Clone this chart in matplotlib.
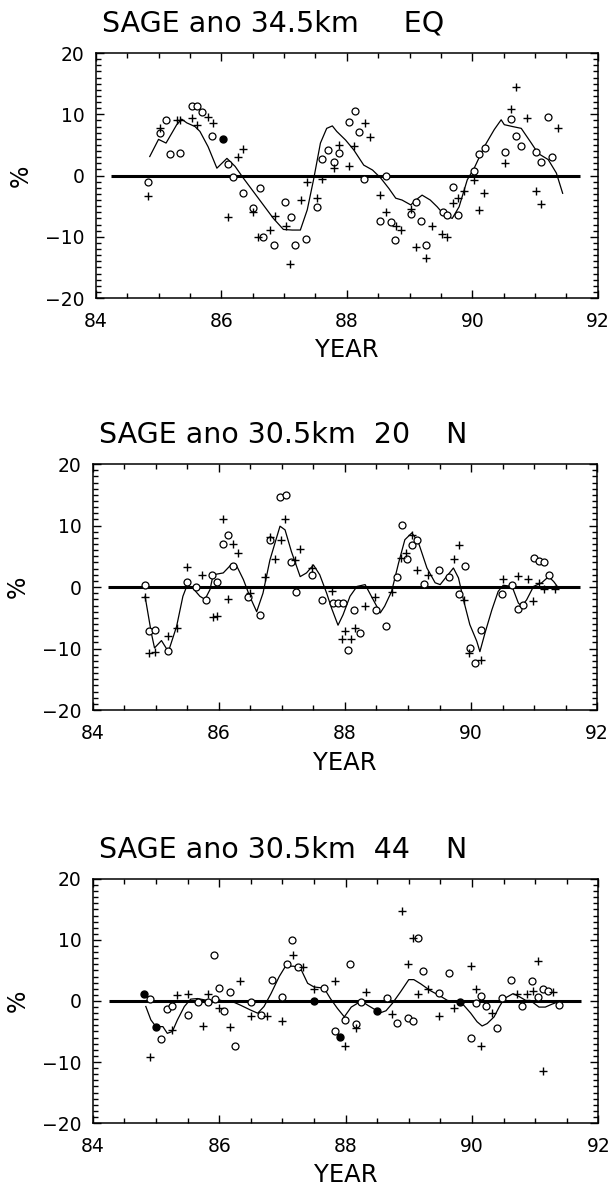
import matplotlib
matplotlib.use('Agg')
import matplotlib.pyplot as plt
from matplotlib.ticker import MultipleLocator

# ---------------- dados ----------------
# painel 1: SAGE 34.5 km, equador
eq_curva_ano = [84.86, 85.00, 85.12, 85.29, 85.37, 85.45, 85.58, 85.66, 85.79, 85.93,
                86.09, 86.22, 86.35, 86.51, 86.67, 86.83, 86.99, 87.13, 87.26, 87.37,
                87.47, 87.58, 87.68, 87.77, 87.84, 87.98, 88.11, 88.27, 88.41, 88.54,
                88.67, 88.78, 88.88, 89.02, 89.10, 89.20, 89.33, 89.44, 89.55, 89.68,
                89.79, 89.92, 90.03, 90.19, 90.35, 90.46, 90.51, 90.64, 90.78, 90.94,
                91.05, 91.21, 91.34, 91.44]
eq_curva_val = [3.1, 5.9, 5.3, 8.3, 9.2, 8.6, 8.0, 7.2, 4.7, 1.2,
                2.8, 1.5, -0.4, -2.6, -4.8, -7.0, -8.8, -8.9, -8.9, -5.6,
                -0.7, 5.3, 7.7, 8.1, 7.2, 5.8, 4.2, 1.7, 0.9, -0.4,
                -2.1, -3.7, -4.0, -4.8, -4.0, -3.2, -4.0, -5.1, -6.4, -7.0,
                -5.1, -0.7, 1.2, 4.7, 7.5, 9.1, 8.3, 8.0, 7.7, 5.3,
                3.6, 2.6, 0.4, -2.9]
eq_circ_ano = [84.84, 85.02, 85.12, 85.18, 85.34, 85.53, 85.62, 85.70, 85.86, 86.11,
               86.18, 86.35, 86.51, 86.61, 86.67, 86.84, 87.02, 87.11, 87.18, 87.35,
               87.52, 87.61, 87.70, 87.79, 87.87, 88.04, 88.13, 88.20, 88.27, 88.62,
               88.53, 88.70, 88.77, 89.02, 89.11, 89.19, 89.27, 89.53, 89.60, 89.69,
               89.78, 90.03, 90.11, 90.20, 90.52, 90.61, 90.69, 90.77, 91.02, 91.10,
               91.20, 91.27]
eq_circ_val = [-1.1, 6.9, 9.0, 3.5, 3.6, 11.3, 11.3, 10.3, 6.5, 1.9,
               -0.3, -2.8, -5.3, -2.1, -10.1, -11.4, -4.3, -6.7, -11.4, -10.4,
               -5.1, 2.7, 4.2, 2.2, 3.6, 8.7, 10.5, 7.1, -0.6, 0.0,
               -7.5, -7.6, -10.5, -6.3, -4.4, -7.5, -11.3, -6.0, -6.4, -1.9,
               -6.4, 0.7, 3.5, 4.5, 3.8, 9.2, 6.5, 4.9, 3.8, 2.2,
               9.6, 3.1]
eq_cheio_ano = [86.03]
eq_cheio_val = [5.9]
eq_mais_ano = [84.84, 85.02, 85.29, 85.35, 85.53, 85.61, 85.79, 85.87, 86.11, 86.27,
               86.35, 86.51, 86.59, 86.77, 86.85, 87.03, 87.10, 87.27, 87.37, 87.53,
               87.61, 87.79, 87.87, 88.04, 88.11, 88.29, 88.37, 88.53, 88.62, 88.78,
               88.86, 89.02, 89.11, 89.27, 89.36, 89.52, 89.60, 89.69, 89.78, 89.87,
               90.03, 90.10, 90.19, 90.52, 90.61, 90.70, 90.87, 91.02, 91.10, 91.36]
eq_mais_val = [-3.3, 7.7, 9.1, 9.1, 9.4, 8.3, 9.6, 8.6, -6.7, 3.0,
               4.4, -6.0, -10.0, -8.9, -6.6, -8.3, -14.5, -4.0, -1.0, -3.7,
               -0.5, 1.2, 5.0, 1.5, 4.9, 8.6, 6.3, -3.2, -6.0, -8.3,
               -8.9, -5.5, -11.7, -13.5, -8.3, -9.6, -10.0, -4.5, -3.7, -2.6,
               -0.7, -5.6, -2.9, 2.0, 10.9, 14.5, 9.4, -2.6, -4.6, 7.8]

# painel 2: SAGE 30.5 km, 20 N
n20_curva_ano = [84.83, 84.93, 84.98, 85.09, 85.20, 85.33, 85.43, 85.49, 85.59, 85.70,
                 85.78, 85.86, 85.91, 86.07, 86.20, 86.28, 86.39, 86.49, 86.60, 86.70,
                 86.81, 86.97, 87.05, 87.15, 87.29, 87.39, 87.50, 87.60, 87.71, 87.79,
                 87.89, 87.97, 88.08, 88.19, 88.32, 88.45, 88.56, 88.63, 88.74, 88.85,
                 88.95, 89.06, 89.16, 89.30, 89.43, 89.51, 89.61, 89.72, 89.80, 89.88,
                 89.98, 90.09, 90.14, 90.22, 90.33, 90.43, 90.51, 90.65, 90.75, 90.80,
                 90.88, 90.99, 91.12, 91.23, 91.31, 91.39]
n20_curva_val = [-1.5, -7.5, -9.9, -8.7, -10.5, -6.4, -1.5, 0.1, -0.2, -1.5,
                 -2.0, -0.4, 2.0, 2.3, 3.7, 3.5, 1.2, -1.5, -4.0, -1.0,
                 4.4, 9.9, 9.3, 5.8, 1.7, 2.3, 3.6, 2.0, -1.0, -3.5,
                 -6.2, -4.5, -1.5, 0.1, 0.4, -2.1, -4.2, -3.1, -0.7, 3.9,
                 7.7, 8.8, 7.4, 3.1, 0.7, 0.4, 1.7, 3.1, 1.5, -2.1,
                 -6.1, -8.8, -10.5, -7.5, -3.7, -0.7, 0.3, 0.1, -2.6, -3.1,
                 -2.1, 0.1, 0.7, 1.7, 0.9, -0.2]
n20_circ_ano = [84.83, 84.90, 84.98, 85.20, 85.49, 85.64, 85.80, 85.89, 85.97, 86.07,
                86.15, 86.23, 86.47, 86.65, 86.81, 86.97, 87.07, 87.15, 87.23, 87.48,
                87.64, 87.81, 87.89, 87.97, 88.05, 88.15, 88.24, 88.49, 88.65, 88.82,
                88.90, 88.98, 89.06, 89.15, 89.25, 89.49, 89.65, 89.81, 89.90, 89.98,
                90.06, 90.15, 90.49, 90.65, 90.74, 90.82, 90.99, 91.07, 91.15, 91.24]
n20_circ_val = [0.3, -7.2, -6.9, -10.4, 0.8, 0.0, -2.1, 2.0, 0.8, 7.0,
                8.5, 3.5, -1.6, -4.5, 7.7, 14.7, 14.9, 4.1, -0.8, 1.9,
                -2.1, -2.6, -2.6, -2.6, -10.3, -3.7, -7.4, -3.8, -6.3, 1.7,
                10.1, 4.6, 6.9, 7.7, 0.5, 2.7, 1.7, -1.1, 3.5, -9.9,
                -12.4, -7.0, -1.1, 0.4, -3.5, -2.9, 4.7, 4.3, 4.1, 1.9]
n20_mais_ano = [84.83, 84.90, 84.98, 85.20, 85.33, 85.49, 85.73, 85.91, 85.97, 86.07,
                86.15, 86.23, 86.31, 86.49, 86.73, 86.81, 86.89, 86.98, 87.05, 87.21,
                87.29, 87.47, 87.79, 87.95, 88.00, 88.09, 88.16, 88.32, 88.48, 88.74,
                88.89, 88.97, 89.07, 89.15, 89.31, 89.73, 89.81, 89.89, 89.97, 90.15,
                90.50, 90.74, 90.91, 90.98, 91.08, 91.16, 91.33]
n20_mais_val = [-1.6, -10.7, -10.6, -8.0, -6.6, 3.3, 2.0, -4.9, -4.7, 11.1,
                -2.0, 7.0, 5.6, -1.0, 1.7, 8.2, 4.6, 7.7, 11.1, 4.4,
                6.2, 3.1, -0.6, -8.4, -7.1, -8.4, -6.7, -3.1, -1.6, -0.8,
                4.8, 5.5, 8.4, 2.7, 2.0, 4.6, 6.9, -2.1, -10.7, -11.9,
                1.3, 1.8, 1.3, -2.2, 0.7, -0.3, -0.3]

# painel 3: SAGE 30.5 km, 44 N
n44_curva_ano = [84.84, 84.92, 85.00, 85.11, 85.18, 85.26, 85.34, 85.45, 85.55, 85.66,
                 85.76, 85.87, 85.97, 86.08, 86.21, 86.34, 86.50, 86.61, 86.71, 86.82,
                 86.95, 87.05, 87.18, 87.29, 87.40, 87.50, 87.66, 87.76, 87.87, 87.98,
                 88.09, 88.25, 88.35, 88.48, 88.56, 88.64, 88.74, 88.87, 89.00, 89.08,
                 89.19, 89.34, 89.50, 89.61, 89.77, 89.87, 89.98, 90.08, 90.16, 90.24,
                 90.35, 90.43, 90.51, 90.65, 90.75, 90.85, 90.92, 91.06, 91.16, 91.27,
                 91.35]
n44_curva_val = [-0.9, -3.1, -4.2, -4.2, -5.3, -5.0, -3.1, -0.9, 0.3, 0.4,
                 0.2, 0.0, 0.3, -0.1, -0.1, -0.7, -1.5, -2.0, -0.9, 1.2,
                 4.0, 5.7, 5.7, 5.3, 2.9, 2.3, 2.1, 0.4, -1.2, -2.6,
                 -1.0, 0.0, -0.7, -1.5, -1.9, -1.6, -0.4, 1.5, 3.5, 3.5,
                 2.8, 1.7, 0.8, 0.1, -0.2, -0.7, -2.0, -3.4, -4.1, -3.7,
                 -2.6, -1.0, 0.4, 1.2, 0.7, 0.1, 0.1, -1.0, -1.0, -0.5,
                 -0.2]
n44_circ_ano = [84.91, 85.08, 85.17, 85.25, 85.50, 85.67, 85.83, 85.92, 85.94, 86.00,
                86.08, 86.17, 86.25, 86.50, 86.66, 86.83, 87.00, 87.08, 87.16, 87.25,
                87.66, 87.83, 87.99, 88.07, 88.16, 88.25, 88.65, 88.82, 88.99, 89.07,
                89.14, 89.22, 89.48, 89.64, 89.98, 90.06, 90.14, 90.22, 90.39, 90.47,
                90.62, 90.79, 90.95, 91.04, 91.12, 91.20, 91.37]
n44_circ_val = [0.4, -6.2, -1.3, -0.8, -2.3, -0.2, -0.2, 7.6, 0.3, 2.2,
                -1.6, 1.5, -7.3, -0.2, -2.3, 3.4, 0.6, 6.1, 10.0, 5.6,
                2.1, -4.9, -3.1, 6.1, -3.7, -0.2, 0.5, -3.6, -2.8, -3.3,
                10.3, 4.9, 1.3, 4.6, -6.0, -0.3, 0.8, -0.8, -4.5, 0.5,
                3.5, -0.9, 3.3, 0.7, 1.9, 1.7, -0.6]
n44_cheio_ano = [84.81, 85.00, 87.50, 87.91, 88.50, 89.81]
n44_cheio_val = [1.2, -4.3, 0.0, -5.9, -1.7, -0.1]
n44_mais_ano = [84.91, 85.25, 85.33, 85.50, 85.75, 85.83, 86.00, 86.17, 86.33, 86.50,
                86.75, 87.00, 87.17, 87.32, 87.50, 87.83, 87.99, 88.16, 88.32, 88.73,
                88.90, 88.99, 89.06, 89.14, 89.30, 89.48, 89.72, 89.98, 90.06, 90.15,
                90.31, 90.71, 90.87, 90.96, 91.04, 91.12, 91.28]
n44_mais_val = [-9.2, -4.7, 1.0, 1.2, -4.1, 1.2, -1.1, -4.3, 3.3, -2.5,
                -2.5, -3.2, 7.5, 5.6, 2.0, 3.3, -7.4, -4.4, 1.4, -2.2,
                14.7, 6.0, 10.3, 1.2, 1.9, -2.5, -1.1, 5.8, 1.9, -7.4,
                -1.9, 1.2, 1.1, 1.7, 6.5, -11.4, 1.4]

titulos = ['SAGE ano 34.5km     EQ', 'SAGE ano 30.5km  20    N', 'SAGE ano 30.5km  44    N']
anos_ticks = [84, 86, 88, 90, 92]
pct_ticks = [-20, -10, 0, 10, 20]
linha_zero = (84.25, 91.72)  # extensao da linha do zero

# posicao de cada painel na figura [esq, baixo, larg, alt]
posicoes = [[0.157, 0.7487, 0.823, 0.2066],
            [0.152, 0.4013, 0.827, 0.2074],
            [0.152, 0.0531, 0.829, 0.2058]]


def painel(ax, titulo, c_ano, c_val, o_ano, o_val, p_ano, p_val, f_ano=None, f_val=None):
    ax.hlines(0, linha_zero[0], linha_zero[1], color='k', lw=2.2, zorder=2)
    ax.plot(c_ano, c_val, color='k', lw=0.9, zorder=3)
    ax.plot(o_ano, o_val, 'o', mfc='white', mec='k', ms=5, mew=0.9, zorder=4)
    ax.plot(p_ano, p_val, '+', color='k', ms=6, mew=1.0, zorder=4)
    if f_ano:
        ax.plot(f_ano, f_val, 'o', color='k', ms=5, zorder=5)

    ax.set_xlim(84, 92)
    ax.set_ylim(-20, 20)
    ax.set_xticks(anos_ticks)
    ax.set_yticks(pct_ticks)
    ax.xaxis.set_minor_locator(MultipleLocator(0.5))
    ax.yaxis.set_minor_locator(MultipleLocator(1))
    ax.tick_params(which='both', direction='in', top=True, right=True, width=1)
    ax.tick_params(which='major', length=6, labelsize=13.5)
    ax.tick_params(which='minor', length=3.5)
    ax.tick_params(axis='x', which='major', pad=10)
    ax.tick_params(axis='y', which='major', pad=8)
    for s in ax.spines.values():
        s.set_linewidth(1.1)

    ax.set_xlabel('YEAR', fontsize=17.5, va='top')
    ax.xaxis.set_label_coords(0.5, -0.165)
    ax.set_ylabel('%', fontsize=17, va='center')
    ax.yaxis.set_label_coords(-0.149, 0.5)
    ax.text(0.012, 1.086, titulo, transform=ax.transAxes, fontsize=20.5,
            ha='left', va='baseline')


fig = plt.figure(figsize=(6.1, 11.86), dpi=100)

ax1 = fig.add_axes(posicoes[0])
painel(ax1, titulos[0], eq_curva_ano, eq_curva_val, eq_circ_ano, eq_circ_val,
       eq_mais_ano, eq_mais_val, eq_cheio_ano, eq_cheio_val)

ax2 = fig.add_axes(posicoes[1])
painel(ax2, titulos[1], n20_curva_ano, n20_curva_val, n20_circ_ano, n20_circ_val,
       n20_mais_ano, n20_mais_val)

ax3 = fig.add_axes(posicoes[2])
painel(ax3, titulos[2], n44_curva_ano, n44_curva_val, n44_circ_ano, n44_circ_val,
       n44_mais_ano, n44_mais_val, n44_cheio_ano, n44_cheio_val)

fig.savefig('out.png', dpi=100)
